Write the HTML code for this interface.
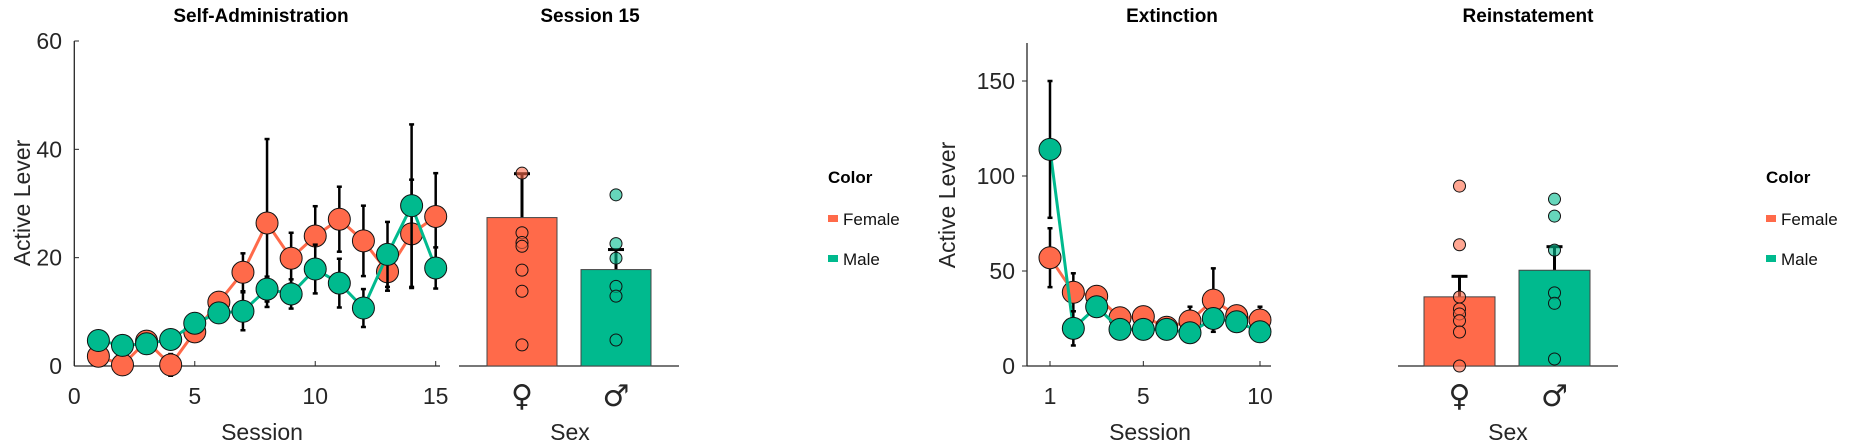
<!DOCTYPE html>
<html><head><meta charset="utf-8"><style>
html,body{margin:0;padding:0;background:#fff;}
svg{display:block;font-family:"Liberation Sans","DejaVu Sans",sans-serif;}
</style></head><body>
<svg id="chart" width="1849" height="444" viewBox="0 0 1849 444" xmlns="http://www.w3.org/2000/svg"></svg>
<script>
// ---- data ----
const saSessions = [1,2,3,4,5,6,7,8,9,10,11,12,13,14,15];
const saFemale = [1.8,0.2,4.6,0.2,6.3,11.8,17.3,26.4,19.9,24.0,27.1,23.1,17.4,24.4,27.6];
const saFemaleErr = [1,1.5,1.5,2,1,1.5,3.5,15.5,4.7,5.5,6,6.5,3.5,10,8];
const saMale = [4.7,3.8,4.1,4.9,7.9,9.8,10.1,14.2,13.3,17.9,15.3,10.7,20.6,29.6,18.1];
const saMaleErr = [1,1,1.5,1.5,1.5,1.5,3.5,2.3,2.7,4.5,4.5,3.5,6,15,3.8];
const saYTicks = [0,20,40,60];
const saXTicks = [0,5,10,15];

const s15Means = [27.4,17.8];
const s15Err = [8.1,3.7];
const s15FemalePts = [35.6,24.6,22.8,22.1,17.7,13.8,3.9];
const s15MalePts = [31.6,22.6,19.9,14.7,12.9,4.8];

const exSessions = [1,2,3,4,5,6,7,8,9,10];
const exFemale = [57,38.8,36.7,25.4,26,20.4,23.7,34.7,26.5,24.2];
const exFemaleErr = [15.5,10,3,4,3,3,7.5,16.7,5,7];
const exMale = [114,19.8,31.2,19.3,19.3,19.3,17.5,25,23.3,18];
const exMaleErr = [36,9,5,2,2,2,2,5,5,2];
const exYTicks = [0,50,100,150];
const exXTicks = [1,5,10];

const riMeans = [36.4,50.4];
const riErr = [10.8,12.4];
const riFemalePts = [94.7,63.8,36.3,30,27.4,23.8,17.9,0];
const riMalePts = [87.8,78.9,61,38.5,33,3.7];

const sexLabels = ["\u2640","\u2642"];
const legendLabels = ["Female","Male"];

// ---- helpers ----
const F = "#FF6A4A", M = "#00BA8E", TXT = "#262626";
const svg = document.getElementById('chart');
const NS = "http://www.w3.org/2000/svg";
function mk(tag, attrs, parent){
  const e = document.createElementNS(NS, tag);
  for (const k in attrs) e.setAttribute(k, attrs[k]);
  (parent||svg).appendChild(e); return e;
}
function txt(s, attrs, parent){ const e = mk('text', attrs, parent); e.textContent = s; return e; }

const saX = v => 74.3 + v*(435.7-74.3)/15;
const saY = v => 366 - v*(366-41)/60;
const exX = v => 1050 + (v-1)*(1260-1050)/9;
const exY = v => 366 - v*(366-81)/150;

function title(s, x, name){
  const t = txt(s, {x:x, y:22, 'text-anchor':'middle', 'font-size':'19', 'font-weight':'bold', fill:'#000'});
   
}
title("Self-Administration", 261, 'sa-title');
title("Session 15", 590, 's15-title');
title("Extinction", 1172, 'ext-title');
title("Reinstatement", 1528, 'rein-title');

{
  const g = mk('g', {});
   
  mk('line',{x1:74.3,y1:41,x2:74.3,y2:366,stroke:TXT,'stroke-width':1.3},g);
  mk('line',{x1:74.3,y1:366,x2:440,y2:366,stroke:TXT,'stroke-width':1.3},g);
  saYTicks.forEach(v=>{
    mk('line',{x1:74.3,y1:saY(v),x2:79,y2:saY(v),stroke:TXT},g);
    const t = txt(String(v),{x:62,y:saY(v)+8,'text-anchor':'end','font-size':'23',fill:TXT},g);
     
  });
  saXTicks.forEach(v=>{
    mk('line',{x1:saX(v),y1:366,x2:saX(v),y2:361,stroke:TXT},g);
    const t = txt(String(v),{x:saX(v),y:404,'text-anchor':'middle','font-size':'23',fill:TXT},g);
     
  });
  const xl = txt("Session",{x:262,y:440,'text-anchor':'middle','font-size':'23',fill:TXT},g);
   
  const yl = txt("Active Lever",{x:0,y:0,'text-anchor':'middle','font-size':'23',fill:TXT,transform:'translate(30,203) rotate(-90)'},g);
   
}
function lineSeries(xs, ys, errs, xf, yf, color, name){
  const g = mk('g',{});
   
  const pts = xs.map((x,i)=>xf(x)+','+yf(ys[i])).join(' ');
  mk('polyline',{points:pts,fill:'none',stroke:color,'stroke-width':3},g);
  xs.forEach((x,i)=>{
    const cx = xf(x);
    mk('line',{x1:cx,y1:yf(ys[i]-errs[i]),x2:cx,y2:yf(ys[i]+errs[i]),stroke:'#000','stroke-width':2.5},g);
    [ys[i]-errs[i], ys[i]+errs[i]].forEach(v=>mk('line',{x1:cx-2.5,y1:yf(v),x2:cx+2.5,y2:yf(v),stroke:'#000','stroke-width':2.5},g));
  });
  xs.forEach((x,i)=>{
    const c = mk('circle',{cx:xf(x),cy:yf(ys[i]),r:11,fill:color,stroke:'#111','stroke-width':1},g);
     
  });
}
lineSeries(saSessions, saFemale, saFemaleErr, saX, saY, F, 'sa-female-series');
lineSeries(saSessions, saMale, saMaleErr, saX, saY, M, 'sa-male-series');

function barPanel(opts){
  const g = mk('g',{});
   
  const yf = opts.yf;
  mk('line',{x1:opts.ax0,y1:366,x2:opts.ax1,y2:366,stroke:TXT,'stroke-width':1.3},g);
  const colors=[F,M];
  const ptsArr=[opts.fPts,opts.mPts];
  opts.means.forEach((m,i)=>{
    const x0 = opts.bars[i];
    const cx = x0 + opts.bw/2;
    mk('line',{x1:cx,y1:yf(m),x2:cx,y2:yf(m+opts.err[i]),stroke:'#000','stroke-width':3},g);
    mk('line',{x1:cx-8,y1:yf(m+opts.err[i]),x2:cx+8,y2:yf(m+opts.err[i]),stroke:'#000','stroke-width':3},g);
    const b = mk('rect',{x:x0,y:yf(m),width:opts.bw,height:366-yf(m),fill:colors[i],stroke:'#444','stroke-width':1},g);
     
    ptsArr[i].forEach(v=>{
      const c = mk('circle',{cx:cx,cy:yf(v),r:6,fill:colors[i],'fill-opacity':0.6,stroke:'#111','stroke-width':1},g);
       
    });
    const t = txt(sexLabels[i],{x:cx,y:406,'text-anchor':'middle','font-size':'30','font-family':'"DejaVu Sans", sans-serif',fill:TXT},g);
     
  });
  const xl = txt("Sex",{x:opts.sexX,y:440,'text-anchor':'middle','font-size':'23',fill:TXT},g);
   
}
barPanel({name:'s15', yf:saY, ax0:459, ax1:679, bars:[487,581], bw:70, means:s15Means, err:s15Err, fPts:s15FemalePts, mPts:s15MalePts, sexX:570});
barPanel({name:'rein', yf:exY, ax0:1398, ax1:1618, bars:[1424,1519], bw:71, means:riMeans, err:riErr, fPts:riFemalePts, mPts:riMalePts, sexX:1508});

{
  const g = mk('g',{});
   
  mk('line',{x1:1027,y1:43,x2:1027,y2:366,stroke:TXT,'stroke-width':1.3},g);
  mk('line',{x1:1027,y1:366,x2:1271,y2:366,stroke:TXT,'stroke-width':1.3},g);
  exYTicks.forEach(v=>{
    mk('line',{x1:1022,y1:exY(v),x2:1027,y2:exY(v),stroke:TXT},g);
    const t = txt(String(v),{x:1015,y:exY(v)+8,'text-anchor':'end','font-size':'23',fill:TXT},g);
     
  });
  exXTicks.forEach(v=>{
    mk('line',{x1:exX(v),y1:366,x2:exX(v),y2:361,stroke:TXT},g);
    const t = txt(String(v),{x:exX(v),y:404,'text-anchor':'middle','font-size':'23',fill:TXT},g);
     
  });
  const xl = txt("Session",{x:1150,y:440,'text-anchor':'middle','font-size':'23',fill:TXT},g);
   
  const yl = txt("Active Lever",{x:0,y:0,'text-anchor':'middle','font-size':'23',fill:TXT,transform:'translate(955,205) rotate(-90)'},g);
   
}
lineSeries(exSessions, exFemale, exFemaleErr, exX, exY, F, 'ext-female-series');
lineSeries(exSessions, exMale, exMaleErr, exX, exY, M, 'ext-male-series');

function legend(x, name){
  const g = mk('g',{});
   
  txt("Color",{x:x,y:183,'font-size':'17','font-weight':'bold',fill:'#000'},g);
  [F,M].forEach((c,i)=>{
    const y = 218 + i*40;
    const e = mk('g',{},g);
     
    mk('rect',{x:x,y:y-3,width:10,height:7,fill:c},e);
    txt(legendLabels[i],{x:x+15,y:y+7,'font-size':'17',fill:'#111'},e);
  });
}
legend(828,'legend-left');
legend(1766,'legend-right');
</script>
</body></html>
